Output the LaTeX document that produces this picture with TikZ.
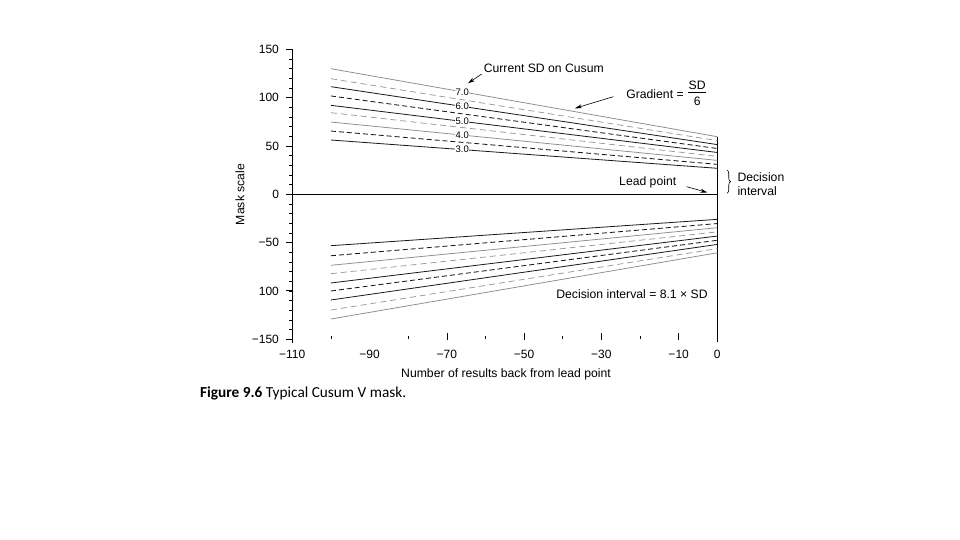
\documentclass[tikz,border=0pt]{standalone}
\usepackage{fontspec}
\setmainfont{Liberation Sans}
\newfontfamily\capfont{Carlito}
\usetikzlibrary{arrows.meta,decorations.pathreplacing}
\begin{document}
\begin{tikzpicture}[x=1pt,y=1pt,
  lab/.style={font=\fontsize{12.2}{14}\selectfont, inner sep=0pt},
  ticklab/.style={font=\fontsize{12}{14}\selectfont, inner sep=0pt},
  sdlab/.style={font=\fontsize{9.5}{11}\selectfont, text=black, fill=white, inner sep=0.4pt},
  axisline/.style={line width=0.8pt, black},
  tickline/.style={line width=0.6pt, black},
  graysolid/.style={line width=0.75pt, black!45},
  graydash/.style={line width=0.75pt, black!40, dash pattern=on 6pt off 4pt},
  blacksolid/.style={line width=0.8pt, black!90},
  blackdash/.style={line width=0.85pt, black!90, dash pattern=on 5pt off 3pt},
  pointer/.style={-{Stealth[length=7pt,width=4pt]}, line width=0.6pt}
]
\useasboundingbox (0,0) rectangle (960,540);
\fill[white] (0,0) rectangle (960,540);

\begin{scope}[shift={(717.3pt,345.7pt)}, x=3.864pt, y=0.966pt]
  % y axis
  \coordinate (ytop) at (-110,150);
  \coordinate (ybot) at (-110,-154);
  \draw[axisline] (ytop) -- (ybot);
  \foreach \v in {-140,-130,...,140} \draw[tickline] (-110,\v) -- ++(-3pt,0);
  \foreach \v in {150,100,50,0,-50,-100,-150} \draw[axisline] (-110,\v) -- ++(-6pt,0);
  \foreach \v/\t [count=\i] in {150/150,100/100,50/50,0/0,-50/−50,-100/100,-150/−150}
    \node[ticklab, anchor=east] (yl\i) at (-113.4,\v) {\t};

  % zero line and lead line
  \coordinate (z0) at (-110,0);
  \coordinate (lead) at (0,0);
  \coordinate (vtop) at (0,59.6);
  \coordinate (vbot) at (0,-152.6);
  \draw[axisline] (z0) -- (lead);
  \draw[axisline] (vtop) -- (vbot);

  % x ticks
  \foreach \x in {-70,-50,-30,-10} \draw[tickline] (\x,-143.5) -- (\x,-150.4);
  \foreach \x in {-100,-80,-60,-40,-20} \draw[tickline] (\x,-146.7) -- (\x,-149.8);
  \foreach \x/\t [count=\i] in {-110/−110,-90/−90,-70/−70,-50/−50,-30/−30,-10/−10,0/0}
    \node[ticklab] (xl\i) at (\x,-165.3) {\t};

  % upper solid lines with labels
  \foreach \a/\b/\sty/\t [count=\i] in {130/59.6/graysolid/7.0, 111.4/51.45/blacksolid/6.0, 92.1/43.3/blacksolid/5.0, 74.8/35.1/graysolid/4.0, 56.2/26.9/blacksolid/3.0}
    \draw[\sty] (-100,\a) -- node[sdlab, pos=0.34] (sd\i) {\t} (0,\b);
  % upper dashed lines
  \foreach \a/\b/\sty in {119.7/55.5/graydash, 101.8/47.4/blackdash, 84.5/39.2/graydash, 65.5/31.0/blackdash}
    \draw[\sty] (-100,\a) -- (0,\b);
  % lower lines
  \foreach \a/\b/\sty in {-53.2/-25.95/blacksolid, -63.6/-30.3/blackdash, -73.5/-34.6/graysolid, -82.2/-38.9/graydash, -91.8/-43.25/blacksolid, -100.1/-47.6/blackdash, -109.4/-51.9/blacksolid, -119.8/-56.2/graydash, -129.1/-60.55/graysolid}
    \draw[\sty] (-100,\a) -- (0,\b);
\end{scope}

% annotations
\node[lab] (cur) at (543.8,472) {Current SD on Cusum};
\coordinate (curtail) at (481.7,466);
\coordinate (curtip) at (468,456.7);
\draw[pointer] (curtail) -- (curtip);

\node[lab] (grad) at (655,445.7) {Gradient =};
\node[lab] (gsd) at (697.2,454.3) {SD};
\node[lab] (gsix) at (697.2,438.3) {6};
\coordinate (barl) at (688.3,447.5);
\coordinate (barr) at (706,447.5);
\draw[line width=0.6pt] (barl) -- (barr);
\coordinate (gradtail) at (613.3,443.3);
\coordinate (gradtip) at (575,431.7);
\draw[pointer] (gradtail) -- (gradtip);

\node[lab] (leadlab) at (647.7,357.3) {Lead point};
\coordinate (leadtail) at (686.7,353.3);
\coordinate (leadtip) at (707.3,347.5);
\draw[pointer] (leadtail) -- (leadtip);

\coordinate (brtop) at (727,370);
\coordinate (brbot) at (727,346.7);
\draw[line width=0.6pt, decorate, decoration={brace, amplitude=3.5pt}] (brtop) -- (brbot);
\node[lab, anchor=west] (dec1) at (737.3,363.3) {Decision};
\node[lab, anchor=west] (dec2) at (737.3,349) {interval};

\node[lab] (dilab) at (632,245.7) {Decision interval = 8.1 × SD};

\node[lab, rotate=90] (ylab) at (240,345.5) {Mask scale};
\node[lab] (xlab) at (506,166) {Number of results back from lead point};

\node[anchor=west, inner sep=0pt, font=\capfont\fontsize{15.3}{18}\selectfont] (cap) at (200,147) {\textbf{Figure 9.6} Typical Cusum V mask.};
\end{tikzpicture}
\end{document}
